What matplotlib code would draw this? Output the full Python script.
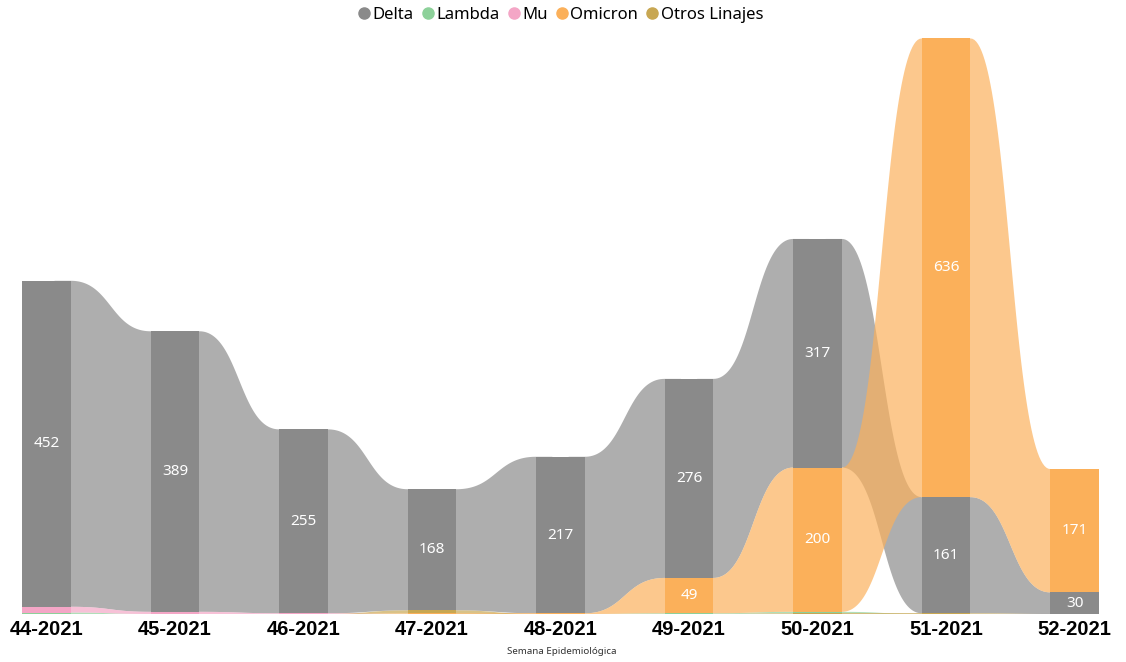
import numpy as np
import matplotlib.pyplot as plt
from matplotlib.lines import Line2D
from matplotlib.patches import Rectangle

weeks = ['44-2021', '45-2021', '46-2021', '47-2021', '48-2021',
         '49-2021', '50-2021', '51-2021', '52-2021']
delta = [452, 389, 255, 168, 217, 276, 317, 161, 30]
lambda_ = [2, 0, 0, 0, 0, 1, 2, 0, 0]
mu = [8, 3, 1, 0, 0, 0, 0, 0, 0]
omicron = [0, 0, 0, 1, 1, 49, 200, 636, 171]
otros = [0, 0, 0, 4, 0, 0, 1, 1, 0]

names = ['Delta', 'Lambda', 'Mu', 'Omicron', 'Otros Linajes']
series = [delta, lambda_, mu, omicron, otros]
colors = ['#8a8a8a', '#8dd19a', '#f4a6c6', '#fbb05a', '#c8a752']

n = len(weeks)
x = np.arange(n)
bw = 0.38

# stack per week: smallest at the bottom, largest on top
bottoms = np.zeros((len(series), n))
for j in range(n):
    vals = [s[j] for s in series]
    order = sorted(range(len(series)), key=lambda i: vals[i])
    acc = 0
    for i in order:
        bottoms[i, j] = acc
        acc += vals[i]
vals_arr = np.array(series, dtype=float)
tops = bottoms + vals_arr


def bez(x0, y0, x1, y1, m=60):
    t = np.linspace(0, 1, m)
    d = (x1 - x0) * 0.5
    px = (1 - t)**3 * x0 + 3 * (1 - t)**2 * t * (x0 + d) + 3 * (1 - t) * t**2 * (x1 - d) + t**3 * x1
    py = (1 - t)**3 * y0 + 3 * (1 - t)**2 * t * y0 + 3 * (1 - t) * t**2 * y1 + t**3 * y1
    # flat run under the bars so no seam shows
    px = np.concatenate([[x0 - bw / 3], px, [x1 + bw / 3]])
    py = np.concatenate([[y0], py, [y1]])
    return px, py


fig = plt.figure(figsize=(11.26, 6.62), dpi=100)
ax = fig.add_axes([22 / 1126, 48 / 662, 1077 / 1126, 577 / 662])

for i, s in enumerate(series):
    for j in range(n - 1):
        if s[j] == 0 and s[j + 1] == 0:
            continue
        x0, x1 = x[j] + bw / 2, x[j + 1] - bw / 2
        tx, ty = bez(x0, tops[i, j], x1, tops[i, j + 1])
        bx, by = bez(x0, bottoms[i, j], x1, bottoms[i, j + 1])
        ax.fill(np.concatenate([tx, bx[::-1]]), np.concatenate([ty, by[::-1]]),
                color=colors[i], alpha=0.69, lw=0, zorder=1)

for i, s in enumerate(series):
    for j in range(n):
        if s[j] > 0:
            ax.add_patch(Rectangle((x[j] - bw / 2, bottoms[i, j]), bw, s[j],
                                   color=colors[i], lw=0, zorder=3))
            if s[j] >= 25:
                ax.text(x[j], bottoms[i, j] + s[j] / 2, str(s[j]), color='white',
                        ha='center', va='center', fontsize=11, family='Noto Sans', zorder=4)

ax.set_xlim(-bw / 2, n - 1 + bw / 2)
ax.set_ylim(0, 800)
ax.set_xticks(x)
ax.set_xticklabels(weeks, fontsize=14.5, fontweight='bold', family='Liberation Sans')
ax.tick_params(axis='x', length=0, pad=4)
ax.set_yticks([])
for sp in ax.spines.values():
    sp.set_visible(False)

fig.text(562 / 1126, 1 - 652 / 662, 'Semana Epidemiológica', ha='center', va='center',
         fontsize=7, family='Noto Sans', color='#333333')

handles = [Line2D([], [], marker='o', ls='', color=c, markersize=8) for c in colors]
fig.legend(handles, names, loc='center', bbox_to_anchor=(560 / 1126, 1 - 15 / 662),
           ncol=5, frameon=False, prop={'family': 'Noto Sans', 'size': 12},
           handlelength=0.9, handletextpad=0.05, columnspacing=0.4, borderpad=0)

fig.savefig('out.png', dpi=100)
